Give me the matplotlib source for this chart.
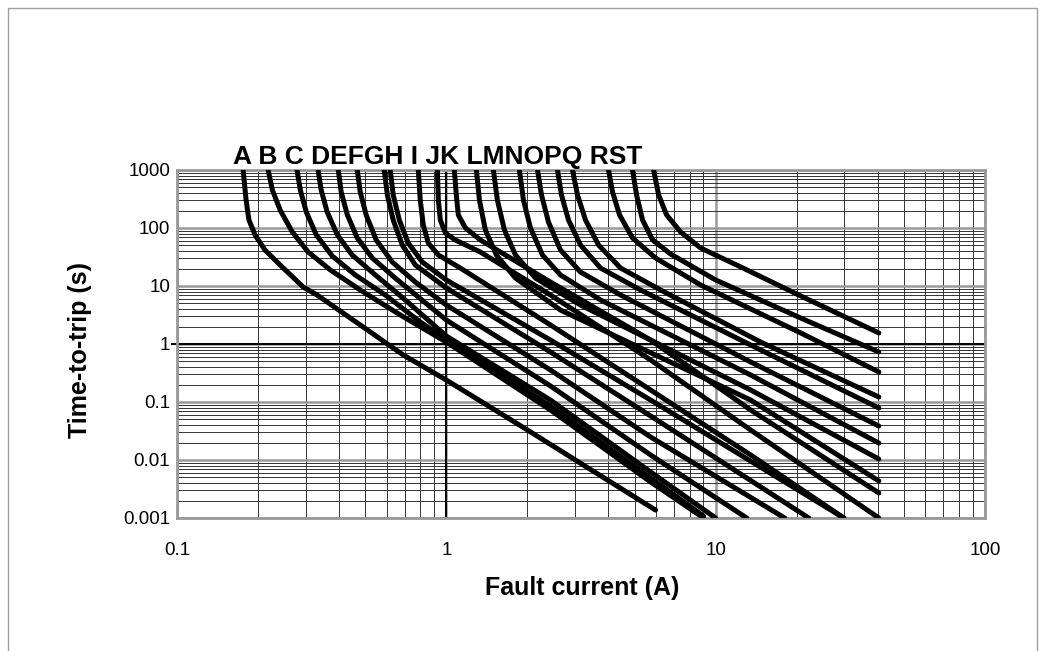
import matplotlib
matplotlib.use("Agg")
import matplotlib.pyplot as plt
from matplotlib.patches import Rectangle
from matplotlib.ticker import LogLocator, NullFormatter

plt.rcParams['font.family'] = ['Liberation Sans', 'DejaVu Sans']

# ---- data: fault current (A) and time-to-trip (s) for each curve ----
curve_names = ["A", "B", "C", "D", "E", "F", "G", "H", "I", "J",
               "K", "L", "M", "N", "O", "P", "Q", "R", "S", "T"]

A_x = [0.176, 0.1805, 0.185, 0.195, 0.212, 0.2415, 0.294, 0.331, 0.479, 0.692, 1.0, 2.0, 3.74, 5.98]
A_t = [1000, 304, 137, 75.7, 41.8, 23.0, 9.61, 7.0, 2.13, 0.646, 0.239, 0.0329, 0.00535, 0.00137]
B_x = [0.218, 0.226, 0.2415, 0.268, 0.307, 0.371, 0.479, 0.675, 1.0, 2.436, 5.735, 9.02]
B_t = [1000, 452, 204, 85.3, 38.5, 18.9, 8.53, 3.16, 1.08, 0.0728, 0.00418, 0.001]
C_x = [0.279, 0.287, 0.302, 0.329, 0.377, 0.459, 0.593, 0.800, 1.0, 2.436, 5.735, 9.02]
C_t = [1000, 452, 189, 75.7, 32.9, 15.5, 7.0, 2.40, 1.17, 0.0853, 0.0049, 0.00108]
D_x = [0.334, 0.343, 0.361, 0.394, 0.447, 0.545, 0.704, 1.0, 2.436, 5.735, 10.0]
D_t = [1000, 452, 189, 75.7, 34.2, 15.5, 5.74, 1.37, 0.108, 0.00621, 0.001]
E_x = [0.397, 0.407, 0.429, 0.467, 0.531, 0.646, 1.0, 2.436, 5.735, 13.04]
E_t = [1000, 418, 168, 67.3, 30.4, 13.7, 2.59, 0.189, 0.0122, 0.001]
F_x = [0.467, 0.479, 0.504, 0.549, 0.630, 0.767, 1.0, 2.436, 5.735, 18.05]
F_t = [1000, 418, 168, 62.1, 25.9, 11.7, 4.70, 0.356, 0.0249, 0.001]
G_x = [0.588, 0.604, 0.635, 0.686, 0.767, 1.0, 2.436, 5.735, 22.17]
G_t = [1000, 371, 137, 50.9, 23.0, 9.24, 0.728, 0.0574, 0.001]
H_x = [0.619, 0.635, 0.669, 0.722, 0.814, 1.0, 2.436, 5.735, 29.92]
H_t = [1000, 371, 137, 55.1, 25.9, 12.7, 1.17, 0.108, 0.001]
I_x = [0.787, 0.800, 0.821, 0.857, 0.934, 1.127, 2.436, 5.735, 13.49, 29.92]
I_t = [1000, 304, 113, 55.1, 34.2, 20.4, 2.13, 0.161, 0.0122, 0.001]
J_x = [0.926, 0.934, 0.950, 0.992, 1.080, 1.338, 2.436, 5.735, 13.49, 40.35]
J_t = [1000, 304, 137, 82.0, 62.1, 38.5, 7.0, 0.530, 0.0329, 0.001]
K_x = [1.071, 1.089, 1.108, 1.177, 1.338, 1.729, 2.436, 5.735, 13.49, 40.35]
K_t = [1000, 371, 168, 100, 62.1, 30.4, 11.7, 1.17, 0.0728, 0.0027]
L_x = [1.293, 1.327, 1.396, 1.534, 1.806, 2.653, 13.49, 40.35]
L_t = [1000, 304, 92.4, 34.2, 13.7, 3.85, 0.108, 0.00435]
M_x = [1.495, 1.547, 1.643, 1.806, 2.143, 3.149, 13.49, 40.35]
M_t = [1000, 304, 92.4, 34.2, 13.7, 4.70, 0.161, 0.0104]
N_x = [1.868, 1.933, 2.053, 2.275, 2.653, 3.737, 13.49, 40.35]
N_t = [1000, 304, 100, 34.2, 15.5, 5.74, 0.292, 0.0196]
O_x = [2.180, 2.256, 2.394, 2.653, 3.149, 4.435, 13.49, 40.35]
O_t = [1000, 371, 127, 41.8, 17.4, 7.0, 0.490, 0.0385]
P_x = [2.586, 2.676, 2.842, 3.149, 3.737, 5.262, 14.70, 40.35]
P_t = [1000, 371, 137, 50.9, 20.4, 8.53, 0.788, 0.0788]
Q_x = [2.941, 3.069, 3.287, 3.674, 4.435, 6.245, 14.70, 40.35]
Q_t = [1000, 371, 137, 50.9, 20.4, 8.53, 1.08, 0.122]
R_x = [4.002, 4.141, 4.397, 4.913, 5.98, 8.796, 20.70, 40.35]
R_t = [1000, 418, 168, 67.3, 30.4, 10.4, 1.55, 0.329]
S_x = [4.913, 5.085, 5.353, 5.834, 6.803, 10.0, 20.70, 40.35]
S_t = [1000, 371, 137, 62.1, 35.6, 12.7, 2.80, 0.728]
T_x = [5.884, 6.140, 6.574, 7.413, 8.796, 12.39, 20.70, 40.35]
T_t = [1000, 371, 168, 85.3, 45.2, 21.3, 6.73, 1.55]

curves_x = [A_x, B_x, C_x, D_x, E_x, F_x, G_x, H_x, I_x, J_x,
            K_x, L_x, M_x, N_x, O_x, P_x, Q_x, R_x, S_x, T_x]
curves_t = [A_t, B_t, C_t, D_t, E_t, F_t, G_t, H_t, I_t, J_t,
            K_t, L_t, M_t, N_t, O_t, P_t, Q_t, R_t, S_t, T_t]

x_ticks = [0.1, 1, 10, 100]
x_tick_labels = ["0.1", "1", "10", "100"]
y_ticks = [0.001, 0.01, 0.1, 1, 10, 100, 1000]
y_tick_labels = ["0.001", "0.01", "0.1", "1", "10", "100", "1000"]
letters_text = "A B C DEFGH I JK LMNOPQ RST"

# ---- figure ----
W, H = 1045, 651
fig = plt.figure(figsize=(W / 100, H / 100), dpi=100)
fig.patch.set_facecolor("white")

# outer light border
fig.patches.append(Rectangle((8 / W, -0.05), (1037 - 8) / W, (H - 8) / H + 0.05,
                             transform=fig.transFigure, fill=False,
                             edgecolor="#a0a0a0", lw=1.0))

ax = fig.add_axes([177 / W, 1 - 518 / H, (985 - 177) / W, (518 - 170) / H])
ax.set_xscale("log")
ax.set_yscale("log")
ax.set_xlim(0.1, 100)
ax.set_ylim(0.001, 1000)

ax.xaxis.set_minor_locator(LogLocator(base=10, subs=range(2, 10)))
ax.yaxis.set_minor_locator(LogLocator(base=10, subs=range(2, 10)))
ax.xaxis.set_minor_formatter(NullFormatter())
ax.yaxis.set_minor_formatter(NullFormatter())

ax.grid(which="minor", color="#a8a8a8", lw=1.6, zorder=0)
ax.grid(which="minor", color="#333333", lw=0.7, zorder=0.5)
ax.grid(which="major", color="#999999", lw=1.8, zorder=0.6)
ax.axvline(1, color="black", lw=1.4, zorder=0.7)
ax.plot([0.0958, 100], [1, 1], color="black", lw=1.4, zorder=0.7, clip_on=False)
ax.set_axisbelow(True)

for cx, ct in zip(curves_x, curves_t):
    ax.plot(cx, ct, color="black", lw=3.6, solid_joinstyle="round",
            solid_capstyle="round", zorder=3)

ax.set_xticks(x_ticks)
ax.set_xticklabels(x_tick_labels)
ax.set_yticks(y_ticks)
ax.set_yticklabels(y_tick_labels)
ax.tick_params(which="both", length=0)
ax.tick_params(axis="x", pad=17, labelsize=13.5)
ax.tick_params(axis="y", pad=5, labelsize=13.5)

for sp in ax.spines.values():
    sp.set_color("#999999")
    sp.set_linewidth(2.0)

fig.text(582 / W, 1 - 588 / H, "Fault current (A)", fontsize=18,
         fontweight="bold", ha="center", va="center")
fig.text(80 / W, 1 - 350 / H, "Time-to-trip (s)", fontsize=18,
         fontweight="bold", ha="center", va="center", rotation=90)
fig.text(438 / W, 1 - 157 / H, letters_text, fontsize=19,
         fontweight="bold", ha="center", va="center")

fig.savefig("out.png", dpi=100, facecolor="white")
